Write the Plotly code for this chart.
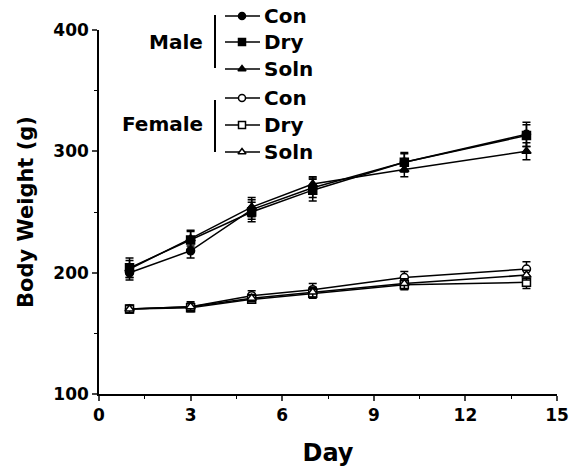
import plotly.graph_objects as go

days = [1, 3, 5, 7, 10, 14]

male_con = [200, 218, 252, 270, 291, 314]
male_con_err = [6, 6, 8, 8, 7, 10]
male_dry = [204, 227, 250, 268, 291, 313]
male_dry_err = [8, 8, 8, 9, 8, 9]
male_soln = [203, 228, 254, 273, 285, 300]
male_soln_err = [7, 6, 8, 6, 6, 7]

female_con = [170, 172, 181, 186, 196, 203]
female_con_err = [3, 4, 4, 5, 5, 6]
female_dry = [170, 171, 178, 183, 190, 192]
female_dry_err = [3, 3, 3, 4, 4, 5]
female_soln = [170, 172, 179, 184, 191, 198]
female_soln_err = [3, 3, 3, 4, 4, 4]

x_ticks = [0, 3, 6, 9, 12, 15]
y_ticks = [100, 200, 300, 400]

FONT = "DejaVu Sans, Liberation Sans, sans-serif"
W, H = 573, 471


def bfont(size):
    return dict(family=FONT, size=size, color="black", weight="bold")


series = [
    ("Male Con", male_con, male_con_err, "circle", "black"),
    ("Male Dry", male_dry, male_dry_err, "square", "black"),
    ("Male Soln", male_soln, male_soln_err, "triangle-up", "black"),
    ("Female Con", female_con, female_con_err, "circle", "white"),
    ("Female Dry", female_dry, female_dry_err, "square", "white"),
    ("Female Soln", female_soln, female_soln_err, "triangle-up", "white"),
]

fig = go.Figure()
for name, vals, err, sym, fill in series:
    fig.add_trace(go.Scatter(
        x=days, y=vals, name=name, mode="lines+markers",
        line=dict(color="black", width=1.5),
        marker=dict(symbol=sym, size=8, color=fill,
                    line=dict(color="black", width=1.5)),
        error_y=dict(type="data", array=err, visible=True,
                     color="black", thickness=1.5, width=4),
        showlegend=False,
    ))

# Manual legend drawn on a full-figure overlay subplot in pixel units
legend_rows = [
    ("Con", "circle", "black", 16),
    ("Dry", "square", "black", 42),
    ("Soln", "triangle-up", "black", 69),
    ("Con", "circle", "white", 98),
    ("Dry", "square", "white", 125),
    ("Soln", "triangle-up", "white", 152),
]
for label, sym, fill, py in legend_rows:
    fig.add_trace(go.Scatter(
        x=[225, 260], y=[py, py], mode="lines", xaxis="x2", yaxis="y2",
        line=dict(color="black", width=1.5), showlegend=False, hoverinfo="skip"))
    fig.add_trace(go.Scatter(
        x=[242], y=[py], mode="markers", xaxis="x2", yaxis="y2",
        marker=dict(symbol=sym, size=7, color=fill, line=dict(color="black", width=1.5)),
        showlegend=False, hoverinfo="skip"))
    fig.add_annotation(x=262, y=py, xref="x2", yref="y2", text=label,
                       showarrow=False, xanchor="left", yanchor="middle", font=bfont(20))

fig.add_annotation(x=205, y=42, xref="x2", yref="y2", text="Male", showarrow=False,
                   xanchor="right", yanchor="middle", font=bfont(20))
fig.add_annotation(x=205, y=124, xref="x2", yref="y2", text="Female", showarrow=False,
                   xanchor="right", yanchor="middle", font=bfont(20))
fig.add_shape(type="line", x0=215, x1=215, y0=15, y1=68, xref="x2", yref="y2",
              line=dict(color="black", width=2))
fig.add_shape(type="line", x0=215, x1=215, y0=100, y1=152, xref="x2", yref="y2",
              line=dict(color="black", width=2))

fig.update_layout(
    width=W, height=H,
    margin=dict(l=0, r=0, t=0, b=0, autoexpand=False),
    plot_bgcolor="rgba(0,0,0,0)", paper_bgcolor="white",
    font=dict(family=FONT, color="black"),
    xaxis=dict(domain=[99 / W, 557 / W], range=[0, 15], tickvals=x_ticks,
               ticks="outside", ticklen=5, tickwidth=1.5,
               showline=True, linecolor="black", linewidth=1.5, showgrid=False, zeroline=False,
               automargin=False, tickfont=bfont(17),
               minor=dict(tickvals=[1.5, 4.5, 7.5, 10.5, 13.5], ticks="outside", ticklen=3,
                          tickcolor="black", tickwidth=1),
               title=dict(text="Day", font=bfont(24), standoff=20)),
    yaxis=dict(domain=[(H - 394) / H, (H - 30) / H], range=[100, 400], tickvals=y_ticks,
               ticks="outside", ticklen=5, tickwidth=1.5,
               showline=True, linecolor="black", linewidth=1.5, showgrid=False, zeroline=False,
               automargin=False, tickfont=bfont(17),
               minor=dict(tickvals=[150, 250, 350], ticks="outside", ticklen=3,
                          tickcolor="black", tickwidth=1),
               title=dict(text="Body Weight (g)", font=bfont(21), standoff=14)),
    xaxis2=dict(domain=[0, 1], range=[0, W], anchor="y2", visible=False, fixedrange=True),
    yaxis2=dict(domain=[0, 1], range=[H, 0], anchor="x2", visible=False, fixedrange=True),
)

fig.write_html("out.html", config={"displayModeBar": False},
               post_script="document.body.style.margin='0';document.body.style.overflow='hidden';")
